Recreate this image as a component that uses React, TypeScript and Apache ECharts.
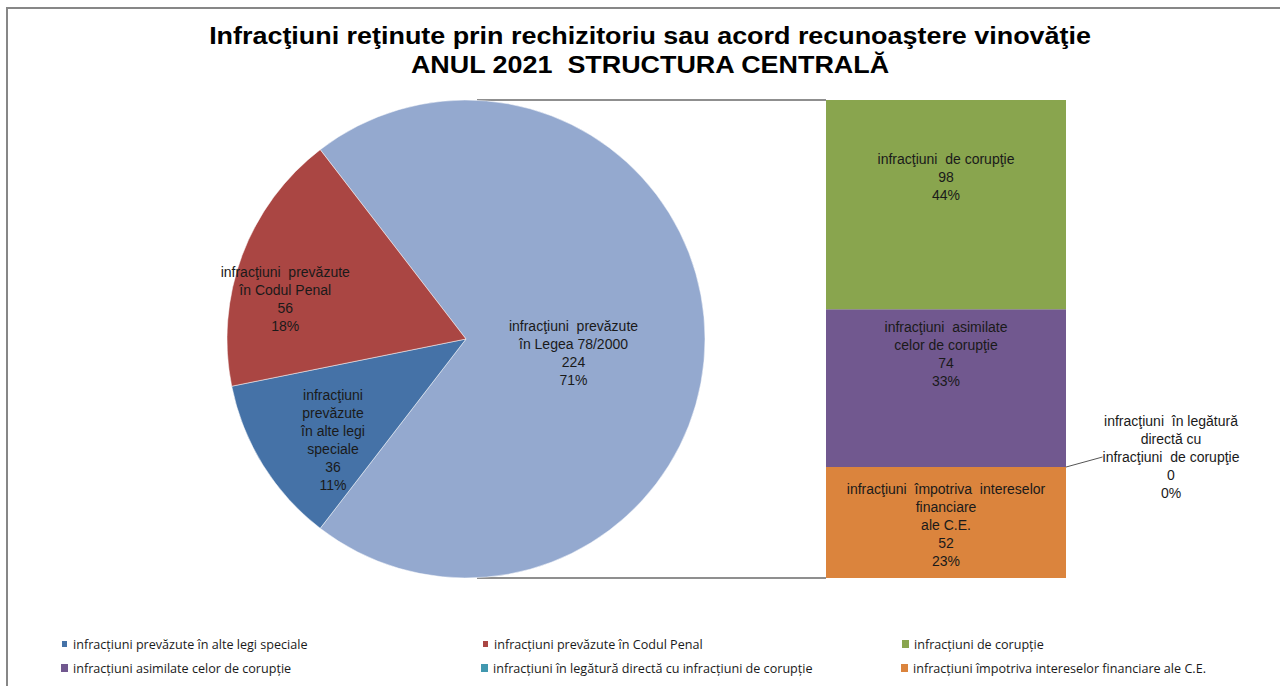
import React, { useEffect, useRef } from "react";
import * as echarts from "echarts";

const titleLines = [
  "Infracţiuni reţinute prin rechizitoriu sau acord recunoaştere vinovăţie",
  "ANUL 2021  STRUCTURA CENTRALĂ",
];

// Pie: main categories (first = aggregated slice broken down in the bar)
const pieNames = [
  "infracțiuni prevăzute în Legea 78/2000",
  "infracțiuni prevăzute în alte legi speciale",
  "infracțiuni prevăzute în Codul Penal",
];
const pieLabels = [
  "infracţiuni  prevăzute\nîn Legea 78/2000",
  "infracţiuni\nprevăzute\nîn alte legi\nspeciale",
  "infracţiuni  prevăzute\nîn Codul Penal",
];
const pieValues = [224, 36, 56];
const pieColors = ["#94A9CF", "#4572A7", "#AA4643"];

// Bar (breakdown of Legea 78/2000), top to bottom
const barNames = [
  "infracțiuni de corupție",
  "infracțiuni asimilate celor de corupție",
  "infracțiuni în legătură directă cu infracțiuni de corupție",
  "infracțiuni împotriva intereselor financiare ale C.E.",
];
const barLabels = [
  "infracţiuni  de corupţie",
  "infracţiuni  asimilate\ncelor de corupţie",
  "infracţiuni  în legătură\ndirectă cu\ninfracţiuni  de corupţie",
  "infracţiuni  împotriva  intereselor\nfinanciare\nale C.E.",
];
const barValues = [98, 74, 0, 52];
const barColors = ["#89A54E", "#71588F", "#4198AF", "#DB843D"];

const legendOrder = [
  "infracțiuni prevăzute în alte legi speciale",
  "infracțiuni prevăzute în Codul Penal",
  "infracțiuni de corupție",
  "infracțiuni asimilate celor de corupție",
  "infracțiuni în legătură directă cu infracțiuni de corupție",
  "infracțiuni împotriva intereselor financiare ale C.E.",
];

const FONT = "'Liberation Sans', Arial, sans-serif";
const LEGEND_FONT = "'Open Sans', 'Liberation Sans', sans-serif";

export default function App() {
  const ref = useRef<HTMLDivElement>(null);
  useEffect(() => {
    if (!ref.current) return;
    const chart = echarts.init(ref.current, undefined, { renderer: "svg" });
    const pieTotal = pieValues.reduce((a, b) => a + b, 0);
    const barTotal = barValues.reduce((a, b) => a + b, 0);
    const cx = 466, cy = 339, r = 239;
    const gx = 826, gy = 100, gw = 240, gh = 478;

    const pieOffsets = [
      [-15, 14],
      [-29, 36],
      [-66, 3],
    ];
    const barOffsets = [
      [0, -28],
      [0, -34],
      [0, 0],
      [0, 2],
    ];

    // stacking bottom-up: reverse order
    const order = [3, 2, 1, 0];
    const barSeries = order.map((i) => ({
      type: "bar",
      name: barNames[i],
      stack: "s",
      data: [barValues[i]],
      barWidth: "100%",
      barCategoryGap: 0,
      itemStyle: { color: barColors[i] },
      emphasis: { disabled: true },
      label: {
        show: true,
        position: "inside",
        color: "#1a1a1a",
        fontFamily: FONT,
        fontSize: 14,
        lineHeight: 18,
        align: "center",
        offset: barOffsets[i],
        formatter: () =>
          `${barLabels[i]}\n${barValues[i]}\n${Math.round((barValues[i] / barTotal) * 100)}%`,
      },
      ...(barValues[i] === 0
        ? {
            labelLayout: { x: 1171, y: 457, align: "center", verticalAlign: "middle" },
            labelLine: { show: true, lineStyle: { color: "#555", width: 1 } },
          }
        : {}),
    }));

    chart.setOption({
      animation: false,
      backgroundColor: "#fff",
      legend: {
        data: legendOrder,
        left: 55,
        top: 632,
        width: 1270,
        itemWidth: 7,
        itemHeight: 8,
        itemGap: 10,
        icon: "rect",
        textStyle: {
          fontFamily: LEGEND_FONT,
          fontSize: 12.6,
          lineHeight: 14,
          color: "#1a1a1a",
          width: 398,
          overflow: "truncate",
        },
      },
      grid: { left: gx, top: gy, width: gw, height: gh, containLabel: false },
      xAxis: { type: "category", data: ["Legea 78/2000"], show: false },
      yAxis: { type: "value", min: 0, max: barTotal, show: false },
      series: [
        {
          type: "pie",
          center: [cx, cy],
          radius: r,
          startAngle: (180 * pieValues[0]) / pieTotal,
          clockwise: true,
          avoidLabelOverlap: false,
          itemStyle: { borderColor: "#fff", borderWidth: 0.5 },
          label: {
            show: true,
            position: "inside",
            color: "#1a1a1a",
            fontFamily: FONT,
            fontSize: 14,
            lineHeight: 18,
            align: "center",
            formatter: (p: any) =>
              `${pieLabels[p.dataIndex]}\n${p.value}\n${Math.round(p.percent)}%`,
          },
          labelLayout: (p: any) => ({
            dx: pieOffsets[p.dataIndex][0],
            dy: pieOffsets[p.dataIndex][1],
          }),
          emphasis: { disabled: true },
          data: pieNames.map((n, i) => ({
            name: n,
            value: pieValues[i],
            itemStyle: { color: pieColors[i] },
          })),
        },
        ...barSeries,
      ],
      graphic: [
        {
          type: "rect",
          shape: { x: 7, y: 8, width: 1300, height: 720 },
          style: { fill: "none", stroke: "#878787", lineWidth: 2 },
          silent: true,
        },
        {
          type: "text",
          x: 650,
          y: 21,
          scaleX: 1.17,
          silent: true,
          style: {
            text: titleLines.join("\n"),
            fontFamily: FONT,
            fontWeight: "bold",
            fontSize: 23,
            lineHeight: 29,
            fill: "#000",
            align: "center",
            verticalAlign: "top",
          },
        },
        {
          type: "line",
          shape: { x1: cx + 11, y1: gy, x2: gx, y2: gy },
          style: { stroke: "#6a6a6a", lineWidth: 1.5 },
          silent: true,
        },
        {
          type: "line",
          shape: { x1: cx + 11, y1: gy + gh, x2: gx, y2: gy + gh },
          style: { stroke: "#6a6a6a", lineWidth: 1.5 },
          silent: true,
        },
      ],
    });
    return () => chart.dispose();
  }, []);
  return (
    <div
      ref={ref}
      style={{ position: "fixed", left: 0, top: 0, width: 1280, height: 686 }}
    />
  );
}
